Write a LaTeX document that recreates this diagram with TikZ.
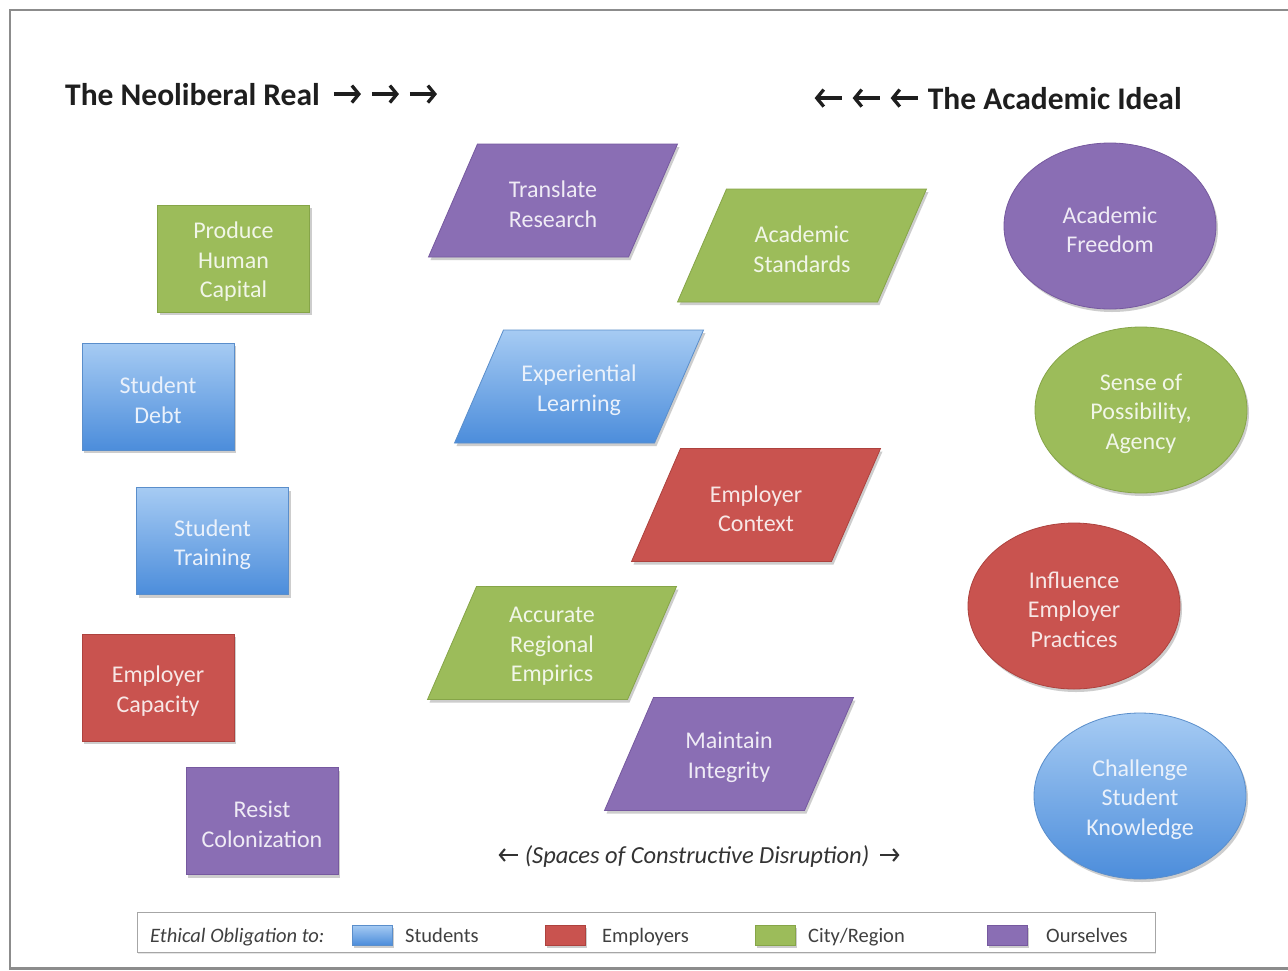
\documentclass[tikz,border=0pt]{standalone}
\usepackage{fontspec}
\setmainfont{Carlito}
\usetikzlibrary{shapes.geometric,shadows,arrows.meta}

\definecolor{purpfill}{HTML}{8A6EB4}
\definecolor{purpline}{HTML}{76599F}
\definecolor{grnfill}{HTML}{9CBC5A}
\definecolor{grnline}{HTML}{86A548}
\definecolor{redfill}{HTML}{C9534F}
\definecolor{redline}{HTML}{AD423E}
\definecolor{bluetop}{HTML}{A6CBF3}
\definecolor{bluebot}{HTML}{4C8DDB}
\definecolor{blueline}{HTML}{5A8ECB}
\definecolor{framegray}{HTML}{8C8C8C}
\definecolor{inktext}{HTML}{1E1E1E}

\tikzset{
  softshadow/.style={drop shadow={shadow xshift=2pt,shadow yshift=-3pt,opacity=0.28,fill=black!70}},
  purpshape/.style={softshadow,fill=purpfill,draw=purpline,line width=0.8pt},
  grnshape/.style={softshadow,fill=grnfill,draw=grnline,line width=0.8pt},
  redshape/.style={softshadow,fill=redfill,draw=redline,line width=0.8pt},
  blueshape/.style={softshadow,top color=bluetop,bottom color=bluebot,draw=blueline,line width=0.8pt},
  boxtxt/.style={align=center,font=\fontsize{24}{29.5}\selectfont,inner sep=0pt,yshift=-3.5pt},
  purptxt/.style={boxtxt,text=white!86!purpfill},
  grntxt/.style={boxtxt,text=white!86!grnfill},
  redtxt/.style={boxtxt,text=white!86!redfill},
  bluetxt/.style={boxtxt,text=white!88!bluebot},
  rectbox/.style={rectangle,minimum width=152,minimum height=107,inner sep=0pt},
  ovalbox/.style={ellipse,minimum width=212,minimum height=166,inner sep=0pt},
  swatch/.style={rectangle,minimum width=40,minimum height=20,inner sep=0pt},
  legtxt/.style={font=\fontsize{20.5}{24}\selectfont,text=black!75,anchor=base west,inner sep=0pt},
  headtxt/.style={inner sep=0pt,text=inktext,font=\fontsize{31.5}{36}\selectfont\bfseries},
  headarrow/.style={draw=inktext,line width=3.3pt,-{Straight Barb[length=7pt,width=17pt,line width=3.3pt]}},
  capsarrow/.style={draw=black!80,line width=2.1pt,-{Straight Barb[length=5pt,width=12pt,line width=2.1pt]}},
}

% slanted box: #1 name, #2 centre x, #3 centre y, #4 shape style, #5 text style, #6 text
\newcommand\paragm[6]{%
  \path[#4] (#2-75.5,#3-56.5) -- (#2+124.5,#3-56.5) -- (#2+75.5,#3+56.5) -- (#2-124.5,#3+56.5) -- cycle;
  \node[#5] (#1) at (#2,#3) {#6};
}
% box or oval: #1 name, #2 centre, #3 shape style, #4 text style, #5 text
\newcommand\shapebox[5]{%
  \node[#3] (#1) at (#2) {};
  \node[#4] (#1-text) at (#1.center) {#5};
}

\begin{document}
\begin{tikzpicture}[x=1pt,y=-1pt]
\useasboundingbox (0,0) rectangle (1288,970);
\fill[white] (0,0) rectangle (1288,970);

% page frame
\draw[framegray,line width=2.2pt] (1288,10) -- (10,10) -- (10,968.5) -- (1288,968.5);

% headings with their arrow runs
\node[headtxt,anchor=base west] (real) at (65,105) {The Neoliberal Real};
\foreach \k in {0,1,2}
  \draw[headarrow] ([xshift={14+38*\k}]real.east) -- ++(27,0);
\node[headtxt,anchor=base east] (ideal) at (1182,109) {The Academic Ideal};
\foreach \k in {0,1,2}
  \draw[headarrow] ([xshift={-10-38*\k}]ideal.west) -- ++(-27,0);

% neoliberal column
\shapebox{produce}{233.5,258.5}{rectbox,grnshape}{grntxt}{Produce\\Human\\Capital}
\shapebox{debt}{158,396.5}{rectbox,blueshape}{bluetxt}{Student\\Debt}
\shapebox{training}{212.5,541}{rectbox,blueshape}{bluetxt}{Student\\Training}
\shapebox{capacity}{158,687.5}{rectbox,redshape}{redtxt}{Employer\\Capacity}
\shapebox{resist}{262,821}{rectbox,purpshape}{purptxt}{Resist\\Colonization}

% spaces of constructive disruption
\paragm{translate}{553}{200.5}{purpshape}{purptxt}{Translate\\Research}
\paragm{standards}{802}{245.5}{grnshape}{grntxt}{Academic\\Standards}
\paragm{experiential}{579}{386.5}{blueshape}{bluetxt}{Experiential\\Learning}
\paragm{context}{756}{505}{redshape}{redtxt}{Employer\\Context}
\paragm{empirics}{552}{643}{grnshape}{grntxt}{Accurate\\Regional\\Empirics}
\paragm{integrity}{729}{754}{purpshape}{purptxt}{Maintain\\Integrity}

% academic column
\shapebox{freedom}{1110,226}{ovalbox,purpshape}{purptxt}{Academic\\Freedom}
\shapebox{agency}{1141,410}{ovalbox,grnshape}{grntxt}{Sense of\\Possibility,\\Agency}
\shapebox{influence}{1074,606}{ovalbox,redshape}{redtxt}{Influence\\Employer\\Practices}
\shapebox{challenge}{1140,796}{ovalbox,blueshape}{bluetxt}{Challenge\\Student\\Knowledge}

% middle caption
\node[anchor=base,inner sep=0pt,text=black!80,font=\fontsize{24.5}{28}\selectfont\itshape] (spaces) at (697,863)
  {(Spaces of Constructive Disruption)};
\draw[capsarrow] ([shift={(-7,-8)}]spaces.base west) -- ++(-19,0);
\draw[capsarrow] ([shift={(11,-8)}]spaces.base east) -- ++(19,0);

% legend
\node[draw=black!35,line width=1pt,fill=white,drop shadow={shadow xshift=1pt,shadow yshift=-2pt,opacity=0.2},
      minimum width=1018,minimum height=40,inner sep=0pt] (legend) at (646,932) {};
\node[legtxt,font=\fontsize{20.5}{24}\selectfont\itshape] (oblig) at (150,942) {Ethical Obligation to:};
\node[swatch,blueshape] (swstud) at (372,935) {};
\node[legtxt] (lstud) at (405,942) {Students};
\node[swatch,redshape] (swemp) at (565,935) {};
\node[legtxt] (lemp) at (602,942) {Employers};
\node[swatch,grnshape] (swcity) at (775,935) {};
\node[legtxt] (lcity) at (808,942) {City/Region};
\node[swatch,purpshape] (swours) at (1007,935) {};
\node[legtxt] (lours) at (1046,942) {Ourselves};
\end{tikzpicture}
\end{document}
